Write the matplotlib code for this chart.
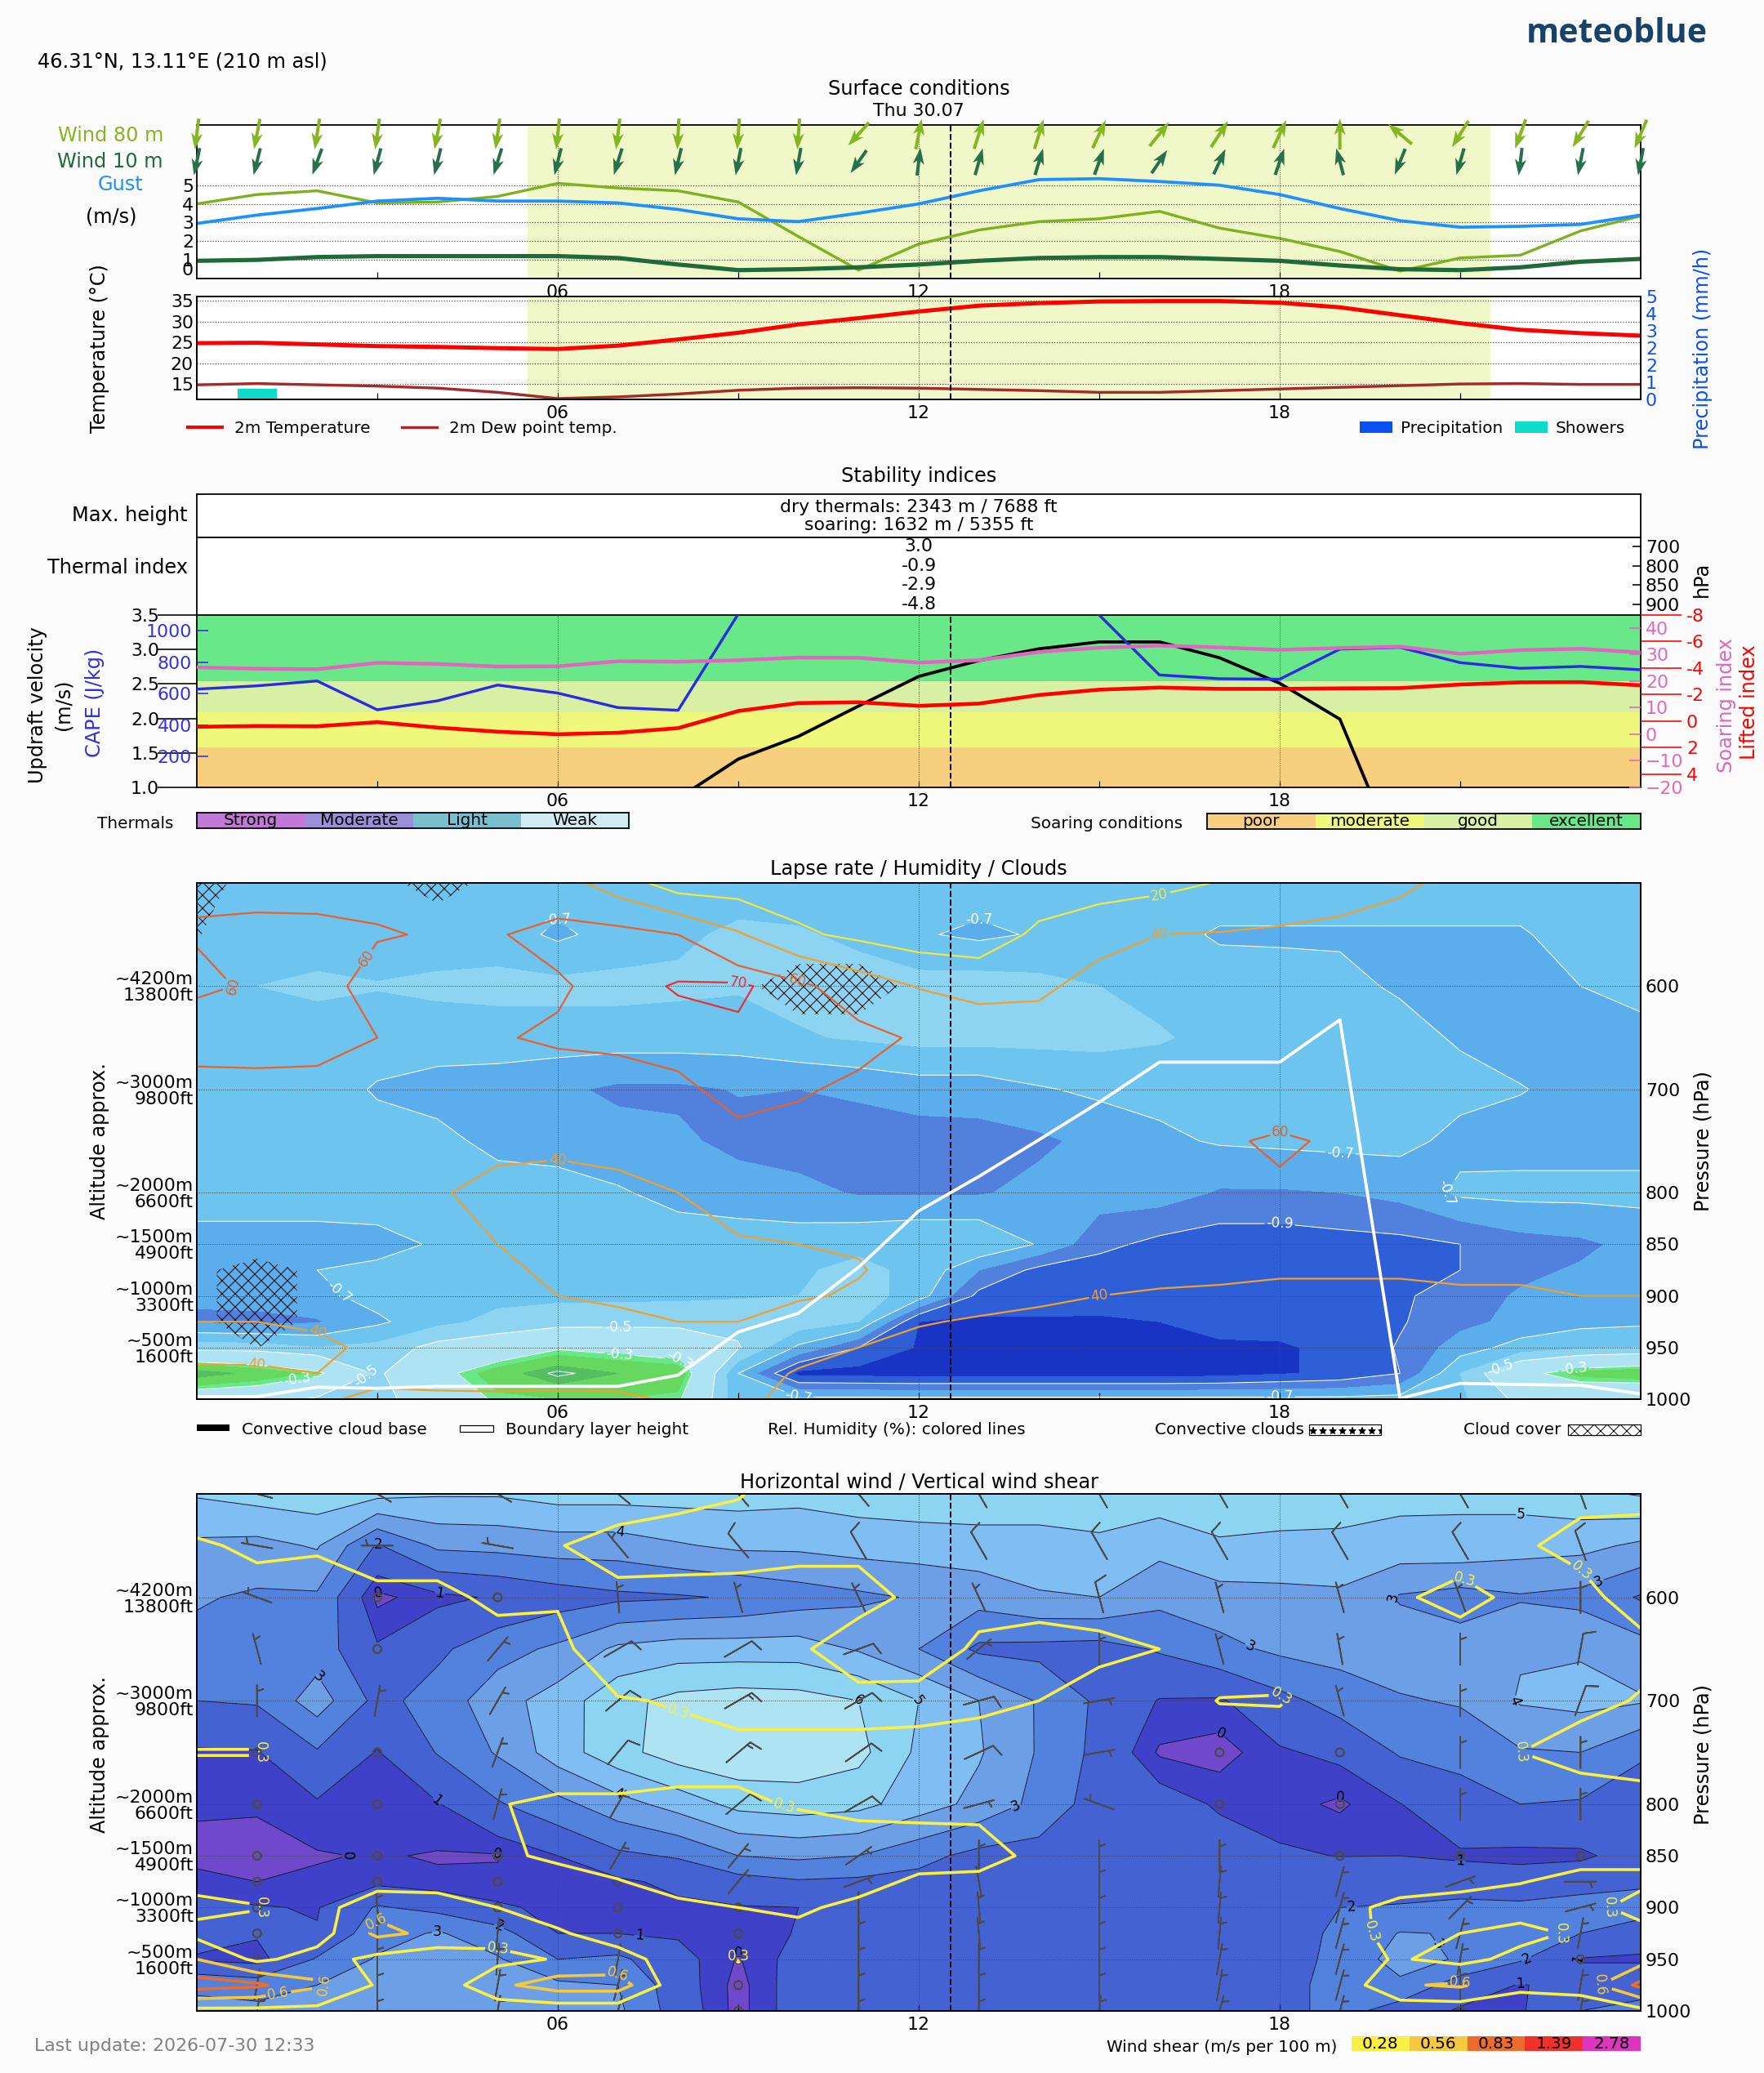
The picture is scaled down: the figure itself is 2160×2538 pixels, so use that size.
import numpy as np
import matplotlib
matplotlib.use("Agg")
import matplotlib.pyplot as plt
from matplotlib.patches import Rectangle

W, H, DPI = 2160, 2538, 144
BG = '#fbfbfb'

HOURS = list(range(25))
NOW_HOUR = 12.53
DAY_START, DAY_END = 5.5, 21.5

# ---------------- surface panel ----------------
WIND80 = [4.0,4.5,4.7,4.05,4.1,4.4,5.1,4.85,4.7,4.1,2.25,0.45,1.85,2.6,3.05,3.2,3.6,2.7,2.15,1.45,0.4,1.1,1.25,2.55,3.35]
GUST = [2.95,3.4,3.75,4.15,4.3,4.15,4.15,4.05,3.7,3.2,3.05,3.5,4.0,4.7,5.3,5.35,5.2,5.0,4.5,3.75,3.1,2.75,2.8,2.9,3.4]
WIND10 = [0.95,1.0,1.15,1.2,1.2,1.2,1.2,1.1,0.75,0.45,0.5,0.6,0.75,0.95,1.1,1.15,1.15,1.05,0.95,0.7,0.5,0.45,0.6,0.9,1.05]
DIR80 = [7,11,9,8,11,8,6,7,3,4,4,42,191,198,197,205,219,213,205,180,130,32,20,31,23]
DIR10 = [12,14,20,15,14,17,14,17,13,11,10,35,187,196,197,200,214,205,199,165,22,16,7,11,11]
TEMP = [24.8,24.9,24.5,24.1,23.9,23.6,23.4,24.2,25.7,27.3,29.3,30.8,32.4,33.8,34.4,34.8,34.9,34.9,34.5,33.4,31.5,29.6,28.0,27.2,26.6]
DEW = [14.8,15.1,14.8,14.5,14.0,13.0,11.5,11.9,12.6,13.5,14.0,14.1,14.0,13.7,13.4,13.0,13.0,13.4,13.8,14.2,14.6,15.0,15.1,14.9,14.9]
SHOWERS = [0,0.5]+[0]*23

# ---------------- stability panel ----------------
UPDRAFT = [np.nan]*8+[0.84,1.41,1.74,2.18,2.61,2.84,3.01,3.11,3.11,2.88,2.51,1.99,-0.1]+[np.nan]*4
CAPE = [628,649,680,497,554,654,603,511,494,1105,1400,1500,1500,1400,1300,1098,718,694,691,882,893,796,760,772,751]
SOARING = [25.2,24.7,24.5,26.9,26.5,25.5,25.6,27.5,27.3,27.9,28.9,28.8,27,27.9,31,32.6,33.4,32.7,31.8,32.5,33,30.3,31.7,32.2,30.8]
LIFTED = [0.43,0.37,0.39,0.08,0.49,0.8,0.99,0.88,0.53,-0.76,-1.36,-1.42,-1.15,-1.32,-1.97,-2.37,-2.53,-2.43,-2.43,-2.47,-2.49,-2.76,-2.92,-2.94,-2.7]
SOAR_BANDS = [1.0,1.585,2.086,2.544,3.5]
SOAR_COLORS = ['#f7cf7e','#f0f87c','#d8f0a4','#68e888']
SOAR_NAMES = ['poor','moderate','good','excellent']
THERMAL_NAMES = ['Strong','Moderate','Light','Weak']
THERMAL_COLORS = ['#c07ad6','#9a8fd8','#7bbfce','#d0ecf2']
THERMAL_INDEX = ['3.0','-0.9','-2.9','-4.8']
THERMAL_HPA = ['900','850','800','700']

# ---------------- pressure grids ----------------
LEVELS = [500,550,600,650,700,750,800,850,875,900,925,950,975,1000]
ALT_P = [600,700,800,850,900,950]
ALT_LABELS = ['~4200m\n13800ft','~3000m\n9800ft','~2000m\n6600ft','~1500m\n4900ft','~1000m\n3300ft','~500m\n1600ft']

LAPSE = [
[-.65,-.65,-.65,-.65,-.65,-.65,-.65,-.65,-.65,-.65,-.65,-.65,-.65,-.65,-.65,-.65,-.65,-.65,-.65,-.65,-.65,-.65,-.65,-.65,-.63],
[-.65,-.65,-.65,-.65,-.65,-.65,-.72,-.66,-.62,-.58,-.59,-.62,-.69,-.72,-.69,-.66,-.67,-.71,-.71,-.71,-.71,-.71,-.71,-.66,-.65],
[-.65,-.6,-.58,-.595,-.58,-.57,-.57,-.57,-.58,-.59,-.57,-.56,-.56,-.55,-.57,-.6,-.63,-.66,-.67,-.68,-.71,-.73,-.74,-.7,-.66],
[-.65,-.65,-.65,-.65,-.65,-.65,-.65,-.65,-.65,-.65,-.61,-.59,-.57,-.57,-.57,-.57,-.59,-.63,-.65,-.66,-.67,-.71,-.74,-.74,-.74],
[-.65,-.65,-.65,-.71,-.74,-.75,-.78,-.82,-.82,-.795,-.8,-.78,-.75,-.75,-.71,-.68,-.67,-.67,-.66,-.66,-.66,-.67,-.695,-.73,-.73],
[-.66,-.66,-.66,-.66,-.67,-.73,-.75,-.76,-.78,-.83,-.85,-.86,-.85,-.84,-.82,-.77,-.72,-.69,-.68,-.67,-.67,-.73,-.74,-.74,-.74],
[-.65,-.65,-.65,-.65,-.65,-.65,-.65,-.69,-.73,-.75,-.77,-.81,-.81,-.81,-.77,-.75,-.75,-.81,-.81,-.8,-.77,-.68,-.67,-.67,-.67],
[-.74,-.74,-.74,-.73,-.69,-.66,-.65,-.65,-.65,-.65,-.65,-.62,-.6,-.6,-.71,-.87,-.93,-.96,-.96,-.94,-.93,-.9,-.84,-.82,-.77],
[-.76,-.75,-.7,-.68,-.65,-.64,-.64,-.64,-.63,-.62,-.61,-.58,-.62,-.8,-.93,-.95,-.96,-.97,-.97,-.96,-.95,-.9,-.82,-.79,-.79],
[-.79,-.76,-.73,-.66,-.64,-.63,-.62,-.62,-.62,-.61,-.6,-.55,-.65,-.93,-.96,-.97,-.98,-.98,-.98,-.98,-.92,-.84,-.79,-.76,-.75],
[-.81,-.83,-.81,-.72,-.63,-.57,-.55,-.54,-.53,-.53,-.54,-.6,-1.0,-1.02,-1.01,-1.01,-1.0,-.98,-.97,-.97,-.91,-.83,-.77,-.73,-.72],
[-.55,-.55,-.6,-.57,-.46,-.42,-.32,-.35,-.4,-.49,-.72,-.9,-1.01,-1.03,-1.03,-1.02,-1.02,-1.01,-1.01,-.98,-.89,-.75,-.66,-.62,-.6],
[-.1,-.18,-.27,-.52,-.35,-.2,-.08,-.15,-.18,-.7,-1.03,-1.04,-1.05,-1.05,-1.05,-1.05,-1.05,-1.04,-1.01,-.98,-.9,-.6,-.35,-.22,-.18],
[-.42,-.43,-.52,-.52,-.46,-.27,-.25,-.25,-.28,-.67,-.67,-.67,-.67,-.67,-.67,-.67,-.67,-.67,-.67,-.67,-.66,-.62,-.47,-.46,-.5],
]
LAPSE_FILL = [-1.3,-1.0,-.9,-.8,-.7,-.6,-.5,-.3,-.25,-.15,-.09,0.2]
LAPSE_COLORS = ['#1734c4','#2f5fd6','#5280dd','#5cadec','#6cc4ef','#8dd4f2','#aee3f3','#68e888','#66d860','#54be60','#4fae80']
LAPSE_LINES = [-.9,-.7,-.5,-.3,-.1]

HUMIDITY = [
[58,58,57,56,54,52,49,30,10,10,10,10,10,10,10,11,14,21,25,30,36,46,48,50,50],
[61,61.5,62,61,59,59,65,66,60,42,23,16,10,10,23.5,33,40,41,43,45.5,50,52,52,52,52],
[57,62,66,54,52,55,58,66,71,72,64,50,39,32,36,47.5,50,52,53,53,52,52,50,50,50],
[70,70,66,60,52,59,62,63,65.5,68,66,65,58,55,50,50,50,52,54,52,50,50,48,48,48],
[52,53,55,50,50,50,52.5,54,57,64.8,61.7,57,55,50,48,48,50,52,55,53,50,48,48,48,48],
[48,47,47,47,47,46,43.3,45,48.5,56,54.4,51.7,50,48,47,49,51,59,61,59,52,50,48,48,48],
[46,46,45,45,42,33.4,34.3,36,40,47,47,46.5,48,47,47,48,49,52,59,52,50,48,46,46,46],
[45,45,44,44,44.5,40,32,30,33,38.5,40,41.3,46,46,45,45,45,46,47,46,45,45,45,45,45],
[44,44,44,45,45,42,38,30,30,34,37,39,46,45,43,42,42.5,42,41,41,41,42,42,44,44],
[42,42,43,44,46,45,40,37,33,36,38,42,46,45,41.5,40,39,38.5,38,38,38,38.5,38.5,40,40],
[40,40,41,43,46,47,44,44,40,40,48,46,41,38.6,38,36,35,35,35,35,35,35,35,36,36],
[38,38,38.5,41.5,45,47,47,47,46,44,44,40,36,34,33,32,31,31,31,31,31,31,31,32,32],
[41,41,40,44,46,47,46,47,47,45,39,34,30,28,27,27,26,26,26,27,27,27,27,28,28],
[43,43,42,37,37,37,37,37,42,44,35,30,28,26,25,25,24,24,24,24,24,25,25,25,25],
]
RH_LEVELS = [20,40,60,70]
RH_COLORS = ['#f5e642','#f0a030','#e8602a','#e83030']

CLOUD = [
[100,20,0,30,100,30,0,0,0,0,0,0,0,0,0,0,0,0,0,0,0,0,0,0,0],
[65,0,0,0,0,0,0,0,0,0,8,8,0,0,0,0,0,0,0,0,0,0,0,0,0],
[0,0,0,0,0,0,0,0,0,40,100,100,40,0,0,0,0,0,0,0,0,0,0,0,0],
[0,0,0,0,0,0,0,0,0,0,26,26,0,0,0,0,0,0,0,0,0,0,0,0,0],
[0]*25,
[0]*25,
[0]*25,
[0,10,0,0,0,0,0,0,0,0,0,0,0,0,0,0,0,0,0,0,0,0,0,0,0],
[40,100,40,0,0,0,0,0,0,0,0,0,0,0,0,0,0,0,0,0,0,0,0,0,0],
[40,100,40,0,0,0,0,0,0,0,0,0,0,0,0,0,0,0,0,0,0,0,0,0,0],
[40,100,40,0,0,0,0,0,0,0,0,0,0,0,0,0,0,0,0,0,0,0,0,0,0],
[0,62,0,0,0,0,0,0,0,0,0,0,0,0,0,0,0,0,0,0,0,0,0,0,0],
[0]*25,
[0]*25,
]
BLH = [997.5,997.5,988.4,989.5,987.6,987.6,987.6,987.6,976.7,935,916.8,872.2,817.7,784.3,748.7,712.4,673.6,673.6,673.6,632.5,999.3,984.7,985.8,986.6,994.9]

WINDSPEED = [
[5.1,5.4,5.6,5.3,5.1,5.1,5.4,5.4,5.4,5.4,5.3,5.5,5.6,5.6,5.6,5.6,5.6,5.5,5.5,5.4,5.3,5.2,5.4,5.7,6.1],
[3.8,3.7,4.1,1.9,3.2,3.3,3.5,3.5,3.9,4.2,4.2,4.4,4.5,4.6,4.6,4.8,4.3,4.9,4.8,4.8,4.6,4.7,4.4,4.3,3.8],
[3.1,2.85,2.85,.35,.8,1.1,1.5,1.8,1.9,2.1,2.5,2.8,3.1,3.4,3.9,4.0,3.3,3.6,3.7,3.8,2.9,2.6,2.9,2.7,1.9],
[2.7,2.5,2.5,1.1,1.8,2.6,3.2,4.2,4.5,4.5,4.5,3.9,3.0,1.8,1.7,1.6,2.1,2.7,3.2,3.4,3.6,3.4,3.9,3.9,3.4],
[2.0,2.1,3.5,1.7,2.4,3.6,4.45,5.7,6.3,6.5,6.4,6.0,5.0,4.0,2.9,1.8,.95,.9,1.7,2.4,2.9,3.1,4.1,4.3,4.1],
[.9,.95,1.9,.95,2.05,3.1,4.5,5.65,6.5,6.8,6.7,6.3,4.8,4.1,2.9,1.7,.42,.25,.9,1.2,2.1,2.3,2.9,3.0,2.1],
[.6,.6,.9,.7,.95,1.9,2.7,3.6,4.4,5.3,5.5,5.3,4.5,3.7,2.7,1.5,1.4,.9,.7,.4,.98,1.6,2.0,1.9,1.6],
[.3,.2,.45,.55,.45,.45,1.0,1.8,2.1,3.0,3.2,3.0,2.3,1.7,1.6,1.4,1.5,1.4,1.1,.98,1.0,.9,.8,.85,1.4],
[.7,.5,.6,.8,.6,.65,.8,.85,1.2,1.6,1.9,1.8,1.7,1.5,1.5,1.4,1.5,1.5,1.5,1.7,1.4,1.4,1.4,1.6,1.8],
[1.2,1.05,.95,2.1,1.7,1.1,.85,.8,.85,.95,1.0,1.3,1.5,1.5,1.5,1.5,1.5,1.5,1.5,2.0,2.1,2.3,2.2,2.4,2.5],
[1.4,1.1,1.05,2.6,3.1,2.4,1.0,1.0,.9,.65,1.05,1.5,1.5,1.5,1.5,1.5,1.5,1.5,1.5,2.2,3.05,2.95,2.2,2.0,1.4],
[.9,.7,2.1,3.1,3.4,3.1,2.0,2.2,1.3,.45,1.3,1.5,1.5,1.5,1.5,1.5,1.5,1.5,1.5,2.3,3.4,2.9,2.1,.95,.9],
[2.8,2.5,3.0,3.3,3.4,3.4,3.2,3.0,1.4,.3,1.4,1.5,1.5,1.5,1.5,1.5,1.5,1.5,1.6,2.4,2.8,1.5,.95,1.3,1.6],
[3.3,3.3,3.3,3.3,3.4,3.4,3.4,3.2,1.5,.3,1.4,1.6,1.6,1.6,1.6,1.6,1.6,1.6,1.6,2.4,1.5,.9,.9,2.0,2.3],
]
WIND_FILL = [0,.5,1,2,3,4,5,6,8]
WIND_COLORS = ['#7048cc','#3f41c8','#4562d2','#5282de','#6c9fe6','#7fbdf2','#8dd4f2','#aee3f3']
BARB_HOURS = [1,3,5,7,9,11,13,15,17,19,21,23]
BARB_DIR = [
[285,300,300,310,320,320,330,330,330,330,330,340],
[280,270,280,320,320,330,330,330,330,330,330,340],
[290,0,0,355,345,335,335,345,345,345,340,0],
[345,0,40,60,60,70,50,0,345,350,0,10],
[0,10,30,50,60,60,75,80,0,345,0,20],
[0,0,20,40,50,55,65,80,0,0,0,0],
[0,0,15,30,50,60,75,290,0,0,0,0],
[0,0,0,30,40,55,0,0,0,0,0,0],
[0,0,0,0,40,70,350,0,5,15,70,90],
[0,355,0,0,0,0,355,0,5,15,45,75],
[0,0,5,0,0,0,355,0,5,15,15,10],
[0,0,5,10,0,0,0,0,10,15,10,0],
[10,0,10,15,0,0,0,0,10,15,0,10],
[10,0,10,15,0,0,0,5,15,15,0,10],
]
SHEAR = [
[.45,.45,.45,.45,.45,.45,.45,.4,.33,.29,.2,.2,.2,.2,.2,.2,.2,.2,.2,.2,.2,.2,.2,.22,.2],
[.25,.32,.3,.45,.45,.4,.29,.2,.2,.2,.2,.2,.2,.2,.2,.2,.2,.2,.2,.2,.2,.2,.25,.35,.4],
[.15,.2,.2,.2,.2,.35,.31,.33,.34,.35,.4,.4,.2,.2,.12,.15,.2,.2,.2,.2,.26,.33,.24,.2,.4],
[.15,.15,.15,.15,.15,.15,.2,.5,.5,.5,.33,.1,.15,.32,.45,.35,.28,.2,.2,.2,.2,.2,.2,.2,.2],
[.2,.2,.2,.2,.2,.2,.2,.26,.3,.38,.38,.38,.36,.32,.28,.15,.2,.285,.29,.2,.2,.2,.2,.2,.3],
[.285,.285,.2,.2,.2,.2,.2,.2,.2,.2,.2,.2,.2,.2,.2,.15,.2,.2,.2,.2,.2,.2,.28,.4,.5],
[.2,.2,.15,.15,.15,.275,.3,.3,.32,.32,.26,.2,.2,.2,.2,.2,.2,.2,.2,.2,.2,.2,.2,.1,.1],
[.15,.15,.15,.15,.15,.2,.36,.45,.45,.45,.45,.45,.42,.4,.2,.2,.2,.2,.2,.2,.2,.2,.2,.2,.2],
[.2,.2,.2,.15,.15,.15,.1,.26,.42,.45,.45,.4,.22,.2,.2,.2,.2,.2,.2,.15,.15,.2,.27,.35,.35],
[.35,.29,.15,.5,.45,.28,.2,.2,.2,.28,.33,.2,.2,.2,.2,.2,.2,.2,.2,.2,.36,.4,.4,.4,.15],
[.2,.2,.15,.62,.5,.4,.3,.2,.2,.2,.2,.2,.2,.2,.2,.2,.2,.2,.2,.2,.35,.28,.2,.32,.4],
[.56,.22,.4,.2,.1,.2,.3,.35,.2,.29,.2,.2,.2,.2,.2,.2,.2,.2,.2,.2,.3,.2,.36,.4,.45],
[.95,.88,.6,.25,.1,.5,.7,.7,.1,.2,.2,.2,.2,.2,.2,.2,.2,.2,.2,.1,.53,.6,.35,.4,.9],
[.2,.2,.2,.1,.1,.1,.1,.1,.1,.2,.2,.2,.2,.2,.2,.2,.2,.2,.2,.1,.1,.1,.1,.1,.2],
]
SHEAR_LEVELS = [.28,.56,.83,1.39,2.78]
SHEAR_COLORS = ['#f9ef45','#f5c93e','#ec6b2d','#f23128','#dd35bd']

# label anchors (hour, pressure)
LAPSE_LABELS = [(6,536),(13,536),(2.27,901),(7,934),(8.03,962),(7,973),(1.66,976),(2.8,976),(10,999),(19,769),(18,823),(20.4,800),(21.7,976),(22.9,976),(18,999)]
RH_LABELS = [(.7,600),(3,580),(9,596),(10,591),(6,765),(2,936),(1,965),(16,511),(16,549),(18,743),(15,899)]
WIND_LABELS = [(3.03,546),(3.03,593),(4.04,596),(7,547),(2,678),(11,698),(12,698),(7,791),(4,796),(5,845),(2.5,850),(4,920),(5,921),(7.36,924),(9,932),
               (22,529),(19.6,602),(23.4,602),(17.5,648),(21.7,699),(13.6,800),(17,733),(19,788),(21,854),(19.2,900),(21,921),(22,937),(22.8,952),(22,967)]
SHEAR_LABELS = [(1.58,750),(7.98,714.5),(9.78,799),(5,941),(9,947),(1.14,901.6),(2.99,914),(7,965),(2.18,976),(1.34,978),
                (18,697),(21,590),(23,575),(22,750),(19.6,923),(23.2,900),(23,922),(21,970),(23.2,975)]

plt.rcParams.update({'font.family':'DejaVu Sans','font.size':11,'hatch.linewidth':0.5,'hatch.color':'black',
                     'axes.linewidth':0.9,'xtick.major.width':0.6,'ytick.major.width':0.8})

fig = plt.figure(figsize=(W/DPI, H/DPI), dpi=DPI, facecolor=BG)
X0, X1 = 241, 2009
BIG, MID, SMALL = 12, 11, 10

def axpx(t, b, l=X0, r=X1, **kw):
    return fig.add_axes([l/W, 1-b/H, (r-l)/W, (b-t)/H], **kw)
def T(x, y, s, **kw):
    kw.setdefault('ha','center'); kw.setdefault('va','center'); kw.setdefault('fontsize',BIG)
    return fig.text(x/W, 1-y/H, s, **kw)
def box(x0, y0, x1, y1, **kw):
    fig.add_artist(Rectangle((x0/W,1-y1/H),(x1-x0)/W,(y1-y0)/H,transform=fig.transFigure,**kw))

def hour_axis(ax):
    ax.set_xlim(0,24)
    ax.set_xticks(list(range(3,24,3)))
    ax.set_xticklabels(['' if h%6 else f'{h:02d}' for h in range(3,24,3)])
    ax.tick_params(axis='x',direction='in',length=4,pad=3.5,labelsize=MID)
    for h in (6,12,18):
        ax.axvline(h,color='#444444',ls=':',lw=0.5,zorder=4)
    ax.axvline(NOW_HOUR,color='k',ls='--',lw=1,zorder=6)

# ---- header
T(1980,42,'meteoblue',fontsize=20.5,color='#17436b',family='Open Sans',fontweight='bold')
T(46,75,'46.31°N, 13.11°E (210 m asl)',ha='left')
T(1125,109,'Surface conditions')
T(1125,136,'Thu 30.07',fontsize=MID)

# ---- wind
ax = axpx(152.5,341)
ax.axvspan(DAY_START,DAY_END,color='#f0f7c8',lw=0,zorder=0)
ax.set_ylim(0,8.25)
ax.set_yticks([0,1,2,3,4,5])
ax.yaxis.grid(True,ls=':',color='#444444',lw=0.6)
ax.set_axisbelow(True)
hour_axis(ax)
ax.tick_params(axis='y',length=0,pad=2,labelsize=MID)
ax.get_yticklabels()[0].set_va('bottom')
ax.plot(HOURS,WIND80,color='#7fb01f',lw=1.7)
ax.plot(HOURS,GUST,color='#1e90ff',lw=1.9)
ax.plot(HOURS,WIND10,color='#206a3a',lw=2.6)
a80 = np.radians(DIR80); a10 = np.radians(DIR10)
for ang,y,c,ln in ((a80,7.74,'#85b520',38),(a10,6.26,'#26704a',34)):
    q = ax.quiver(HOURS,[y]*25,-np.sin(ang)*ln,-np.cos(ang)*ln,color=c,pivot='middle',angles='uv',
                  scale_units='dots',scale=1,units='dots',width=4,headwidth=3.5,headlength=5,headaxislength=4,zorder=5)
    q.set_clip_on(False)
T(200,166,'Wind 80 m',ha='right',color='#85b520')
T(200,198,'Wind 10 m',ha='right',color='#206a3a')
T(175,226,'Gust',ha='right',color='#1e90ff')
T(136,266,'(m/s)')

# ---- temperature
ax = axpx(363,489)
ax.axvspan(DAY_START,DAY_END,color='#f0f7c8',lw=0,zorder=0)
ax.set_ylim(11.3,36)
ax.set_yticks([15,20,25,30,35])
ax.yaxis.grid(True,ls=':',color='#444444',lw=0.6)
ax.set_axisbelow(True)
hour_axis(ax)
ax.tick_params(axis='y',length=0,pad=2,labelsize=MID)
axr = ax.twinx()
axr.set_ylim(0,5)
axr.set_yticks(list(np.linspace(0,5,7)))
axr.set_yticklabels(['0','1','2','2','3','4','5'],color='#0a50f0')
axr.tick_params(axis='y',length=0,pad=3,labelsize=MID)
axr.bar(HOURS,SHOWERS,width=0.65,color='#0ddcc8',zorder=1)
ax.set_zorder(axr.get_zorder()+1); ax.patch.set_visible(False)
ax.plot(HOURS,TEMP,color='#ff0000',lw=2.5)
ax.plot(HOURS,DEW,color='#a52a2a',lw=1.7)
axr.patch.set_visible(True); axr.patch.set_facecolor('white')
T(122,427,'Temperature (°C)',rotation=90)
T(2085,427,'Precipitation (mm/h)',rotation=90,color='#0a50f0')
fig.add_artist(plt.Line2D([230/W,272/W],[1-523/H]*2,color='#ff0000',lw=2,transform=fig.transFigure))
T(287,524,'2m Temperature',ha='left',fontsize=SMALL)
fig.add_artist(plt.Line2D([492/W,535/W],[1-523/H]*2,color='#a52a2a',lw=1.7,transform=fig.transFigure))
T(550,524,'2m Dew point temp.',ha='left',fontsize=SMALL)
box(1665,516,1705,530,color='#0a50f0',lw=0)
T(1715,524,'Precipitation',ha='left',fontsize=SMALL)
box(1855,516,1895,530,color='#0ddcc8',lw=0)
T(1905,524,'Showers',ha='left',fontsize=SMALL)

# ---- stability
T(1125,583,'Stability indices')
ax = axpx(605,658); ax.set_xticks([]); ax.set_yticks([])
T(1125,621,'dry thermals: 2343 m / 7688 ft',fontsize=MID)
T(1125,643,'soaring: 1632 m / 5355 ft',fontsize=MID)
T(230,631,'Max. height',ha='right')
ax = axpx(658,753)
ax.set_xlim(0,24); ax.set_xticks([])
ax.set_ylim(-0.55,3.46)
ax.yaxis.tick_right()
ax.set_yticks([0,1,2,3]); ax.set_yticklabels(THERMAL_HPA)
ax.tick_params(axis='y',direction='in',length=5,pad=3,labelsize=MID)
ax.spines['bottom'].set_visible(False)
for i,s in enumerate(THERMAL_INDEX):
    ax.text(12,3-i,s,ha='center',va='center',fontsize=MID)
T(230,695,'Thermal index',ha='right')
T(2084,709,'hPa',rotation=90)

ax = axpx(753,964)
ax.set_ylim(1,3.5)
for i,c in enumerate(SOAR_COLORS):
    ax.axhspan(SOAR_BANDS[i],SOAR_BANDS[i+1],color=c,lw=0,zorder=0)
ax.set_yticks([1,1.5,2,2.5,3,3.5])
ax.set_yticklabels(['1.0','1.5','2.0','2.5','3.0','3.5'])
ax.tick_params(axis='y',direction='out',length=24,pad=-1,labelsize=MID)
hour_axis(ax)
ax.plot(HOURS,UPDRAFT,color='k',lw=1.9,zorder=7)

def overlay(base, side):
    o = base.twinx()
    o.set_xlim(0,24)
    o.patch.set_visible(False)
    for s in o.spines.values(): s.set_visible(False)
    o.yaxis.set_ticks_position(side); o.yaxis.set_label_position(side)
    return o
cape = overlay(ax,'left')
cape.set_ylim(5,1098)
cape.set_yticks([200,400,600,800,1000])
cape.tick_params(axis='y',direction='in',length=7,pad=3,colors='#3030e0',width=0.8,labelsize=MID)
cape.plot(HOURS,CAPE,color='#2b2be0',lw=1.7)
soar = overlay(ax,'right')
soar.set_ylim(-20,44.9)
soar.set_yticks([-20,-10,0,10,20,30,40])
soar.tick_params(axis='y',direction='in',length=7,pad=3,colors='#e066c0',width=0.8,labelsize=MID)
soar.plot(HOURS,SOARING,color='#e066c0',lw=2.2)
lift = overlay(ax,'right')
lift.set_ylim(5,-8)
lift.set_yticks([4,2,0,-2,-4,-6,-8])
lift.set_yticklabels(['4','2','0','-2','-4','-6','-8'])
lift.tick_params(axis='y',direction='out',length=25,pad=3,colors='#ff0000',width=0.8,labelsize=MID)
lift.plot(HOURS,LIFTED,color='#ff0000',lw=2.3)
T(46,863,'Updraft velocity',rotation=90)
T(78,863,'(m/s)',rotation=90)
T(116,860,'CAPE (J/kg)',rotation=90,color='#3030e0')
T(2114,863,'Soaring index',rotation=90,color='#e066c0')
T(2142,860,'Lifted index',rotation=90,color='#ff0000')

def cells(l,r,t,b,names,colors):
    a = axpx(t,b,l,r)
    a.bar(range(len(names)),[1]*len(names),width=1,color=colors)
    a.set_xlim(-.5,len(names)-.5); a.set_ylim(0,1); a.set_xticks([]); a.set_yticks([])
    for i,n in enumerate(names):
        a.text(i,.5,n,ha='center',va='center',fontsize=SMALL)
    return a
cells(241,770,995,1014,THERMAL_NAMES,THERMAL_COLORS)
cells(1478,2009,996,1015,SOAR_NAMES,SOAR_COLORS)
T(166,1008,'Thermals',fontsize=SMALL)
T(1355,1008,'Soaring conditions',fontsize=SMALL)

# ---- pressure panels
def pressure_axis(ax):
    ax.set_ylim(1000,500)
    ax.set_yticks(ALT_P); ax.set_yticklabels(ALT_LABELS,linespacing=1.0,fontsize=MID)
    ax.tick_params(axis='y',length=0,pad=2)
    r = ax.twinx(); r.set_ylim(1000,500)
    r.set_yticks(ALT_P+[1000]); r.tick_params(axis='y',length=0,pad=3,labelsize=MID)
    hour_axis(ax)
    for p in ALT_P:
        ax.axhline(p,color='#444444',ls=':',lw=0.5,zorder=4)

# lapse rate
T(1125,1064,'Lapse rate / Humidity / Clouds')
ax = axpx(1081,1713)
ax.contourf(HOURS,LEVELS,LAPSE,levels=LAPSE_FILL,colors=LAPSE_COLORS)
pressure_axis(ax)
cl = ax.contour(HOURS,LEVELS,LAPSE,levels=LAPSE_LINES,colors='white',linewidths=0.5,linestyles='solid')
ax.clabel(cl,fmt='%.1f',fontsize=8.5,manual=LAPSE_LABELS,inline_spacing=2)
ax.contourf(HOURS,LEVELS,CLOUD,levels=[60,300],colors='none',hatches=['xxx'],zorder=3)
rh = ax.contour(HOURS,LEVELS,HUMIDITY,levels=RH_LEVELS,colors=RH_COLORS,linewidths=1.1,zorder=5)
ax.clabel(rh,fmt='%d',fontsize=8.5,manual=RH_LABELS,inline_spacing=2)
ax.plot(HOURS,BLH,color='white',lw=1.9,zorder=7)
T(122,1397,'Altitude approx.',rotation=90)
T(2085,1397,'Pressure (hPa)',rotation=90)
box(241,1744,281,1752,color='black',lw=0)
T(296,1750,'Convective cloud base',ha='left',fontsize=SMALL)
box(563,1745,604,1753,facecolor='white',edgecolor='black',lw=0.6)
T(619,1750,'Boundary layer height',ha='left',fontsize=SMALL)
T(940,1750,'Rel. Humidity (%): colored lines',ha='left',fontsize=SMALL)
T(1597,1751,'Convective clouds',ha='right',fontsize=SMALL)
box(1603,1744,1691,1757,facecolor='white',edgecolor='black',hatch='**',lw=0.6)
T(1912,1751,'Cloud cover',ha='right',fontsize=SMALL)
box(1920,1744,2009,1757,facecolor='white',edgecolor='black',hatch='xxx',lw=0.6)

# wind / shear
T(1125,1814,'Horizontal wind / Vertical wind shear')
ax = axpx(1829,2462)
ax.contourf(HOURS,LEVELS,WINDSPEED,levels=WIND_FILL,colors=WIND_COLORS)
pressure_axis(ax)
ws = ax.contour(HOURS,LEVELS,WINDSPEED,levels=WIND_FILL[1:-1],colors='#1a1a40',linewidths=0.5)
ax.clabel(ws,fmt='%d',fontsize=8.5,manual=WIND_LABELS,inline_spacing=1,colors='black')
hidx = [HOURS.index(h) for h in BARB_HOURS]
spd = np.array(WINDSPEED)[:,hidx]*1.944
bd = np.radians(np.array(BARB_DIR))
bx,by = np.meshgrid(BARB_HOURS,LEVELS)
ax.barbs(bx,by,-spd*np.sin(bd),-spd*np.cos(bd),length=6.2,pivot='middle',color='#4a4a4a',linewidth=0.9,
         sizes={'emptybarb':0.13,'spacing':0.13,'height':0.38},zorder=5,clip_on=True)
sh = ax.contour(HOURS,LEVELS,SHEAR,levels=SHEAR_LEVELS,colors=SHEAR_COLORS,linewidths=1.8,zorder=6)
ax.clabel(sh,fmt='%.1f',fontsize=8.5,manual=SHEAR_LABELS,inline_spacing=2)
T(122,2148,'Altitude approx.',rotation=90)
T(2085,2148,'Pressure (hPa)',rotation=90)
T(42,2505,'Last update: 2026-07-30 12:33',ha='left',fontsize=MID,color='#808080')
T(1637,2506,'Wind shear (m/s per 100 m)',ha='right',fontsize=SMALL)
cells(1655,2009,2493,2511,[f'{v:.2f}' for v in SHEAR_LEVELS],SHEAR_COLORS).axis('off')

fig.savefig('out.png',dpi=DPI,facecolor=BG)
